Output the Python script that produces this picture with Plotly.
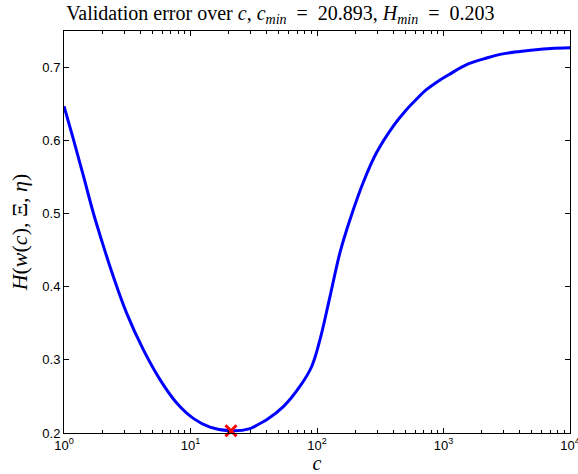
import numpy as np
import plotly.graph_objects as go

# data (log10 of c, and validation error H)
log_c = [0.0, 0.074, 0.153, 0.232, 0.311, 0.390, 0.495, 0.627, 0.759, 0.891,
         1.022, 1.154, 1.320, 1.470, 1.549, 1.602, 1.734, 1.866, 1.958, 2.024,
         2.103, 2.182, 2.261, 2.366, 2.472, 2.603, 2.700, 2.788, 2.867, 2.946,
         3.050, 3.183, 3.341, 3.447, 3.605, 3.710, 3.850, 4.0]
H_vals = [0.647, 0.602, 0.552, 0.501, 0.456, 0.414, 0.364, 0.314, 0.273, 0.241,
          0.220, 0.208, 0.203, 0.206, 0.213, 0.218, 0.236, 0.264, 0.291, 0.328,
          0.387, 0.447, 0.492, 0.543, 0.584, 0.620, 0.641, 0.657, 0.670, 0.680,
          0.691, 0.704, 0.713, 0.718, 0.722, 0.724, 0.726, 0.727]
c_vals = [10 ** v for v in log_c]
c_min = 20.893
H_min = 0.203

x_tickvals = [1, 10, 100, 1000, 10000]
x_ticktext = ["10<sup>0</sup>", "10<sup>1</sup>", "10<sup>2</sup>", "10<sup>3</sup>", "10<sup>4</sup>"]
x_minor = [m * 10 ** d for d in range(4) for m in range(2, 10)]
y_tickvals = [0.2, 0.3, 0.4, 0.5, 0.6, 0.7]
y_ticktext = ["0.2", "0.3", "0.4", "0.5", "0.6", "0.7"]

fig = go.Figure()
fig.add_trace(go.Scatter(x=c_vals, y=H_vals, mode="lines",
                         line=dict(color="rgb(0,0,255)", width=3, shape="spline",
                                   smoothing=1.0),
                         showlegend=False))
fig.add_trace(go.Scatter(x=[c_min], y=[H_min], mode="markers",
                         marker=dict(symbol="x-thin", size=11,
                                     line=dict(color="red", width=3), color="red"),
                         showlegend=False, cliponaxis=False))

serif = "Liberation Serif, DejaVu Serif, serif"
sans = "Liberation Sans, Arial, sans-serif"
sp = "\u00a0"

title_text = ("Validation error over <i>c</i>, <i>c<sub>min</sub></i>" + sp + " = " + sp
              + "20.893, <i>H<sub>min</sub></i>" + sp + " = " + sp + "0.203")
ylabel_text = "<i>H</i>(<i>w</i>(<i>c</i>)," + sp + "Ξ," + sp + "<i>η</i>)"

fig.update_layout(
    width=578, height=474,
    margin=dict(l=64, r=8, t=31, b=41, autoexpand=False),
    paper_bgcolor="white", plot_bgcolor="white",
    title=dict(text=title_text,
               x=0.485, xanchor="center", y=0.972, yanchor="middle",
               font=dict(family=serif, size=20, color="black")),
    xaxis=dict(type="log", range=[0, 4], tickmode="array", tickvals=x_tickvals,
               ticktext=x_ticktext, ticks="inside", ticklen=5, tickcolor="black",
               ticklabeloverflow="allow", automargin=False,
               showline=True, linecolor="black", linewidth=1, mirror="ticks",
               showgrid=False, zeroline=False,
               tickfont=dict(family=sans, size=13, color="black"),
               minor=dict(tickmode="array", tickvals=x_minor, ticks="inside",
                          ticklen=3, tickcolor="black", showgrid=False),
               title=dict(text="<i>c</i>", standoff=4,
                          font=dict(family=serif, size=20, color="black"))),
    yaxis=dict(range=[0.2, 0.75], tickmode="array", tickvals=y_tickvals,
               ticktext=y_ticktext, ticks="inside", ticklen=5, tickcolor="black",
               automargin=False,
               showline=True, linecolor="black", linewidth=1, mirror="ticks",
               showgrid=False, zeroline=False,
               tickfont=dict(family=sans, size=13, color="black"),
               title=dict(text=ylabel_text, standoff=8,
                          font=dict(family=serif, size=22, color="black"))),
)

fig.write_html("out.html")
